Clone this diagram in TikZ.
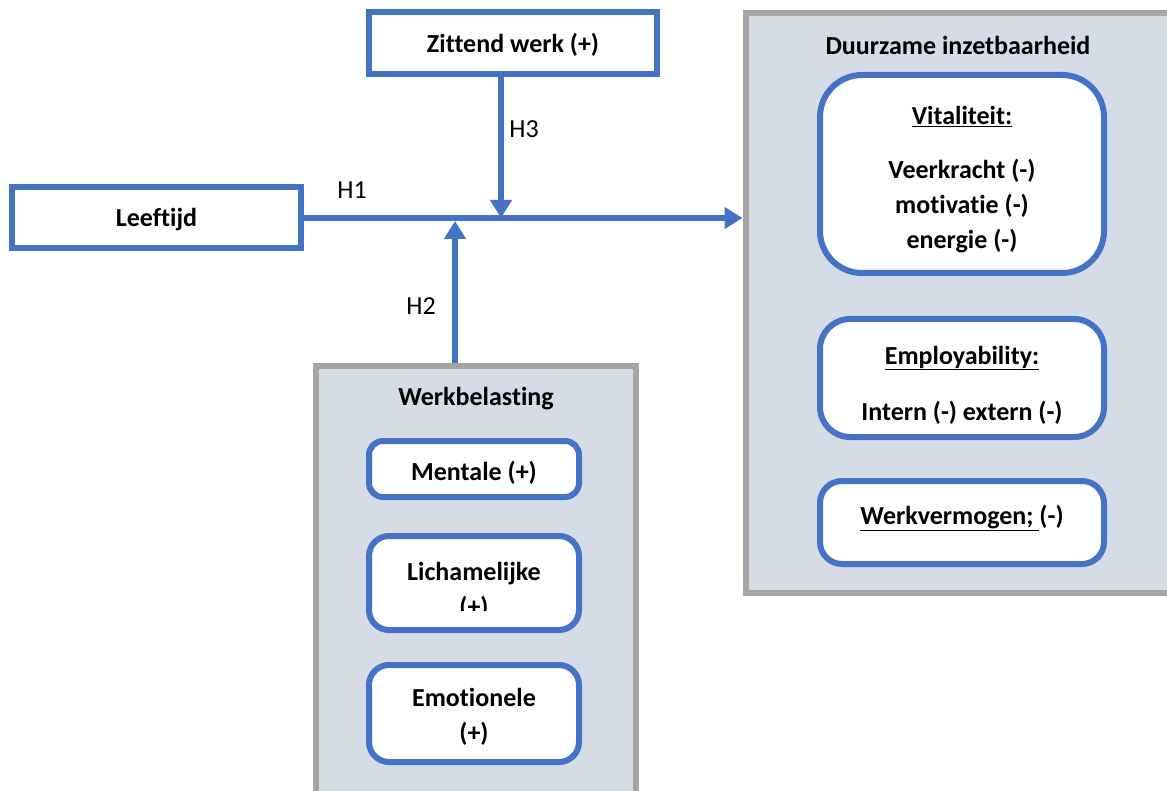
\documentclass[tikz,border=0pt]{standalone}
\usepackage{fontspec}
\setmainfont{Carlito}[Ligatures=NoCommon]
\usetikzlibrary{arrows.meta}
\definecolor{myblue}{HTML}{4472C4}
\definecolor{mygray}{HTML}{A5A5A5}
\definecolor{myfill}{HTML}{D6DCE5}
\begin{document}
\begin{tikzpicture}[x=1pt,y=-1pt,
  font=\fontsize{26}{35}\selectfont\bfseries,
  plainbox/.style={draw=myblue, line width=6pt, fill=white, inner sep=0pt},
  rbox/.style={plainbox, rounded corners=#1},
  groupbox/.style={draw=mygray, line width=6pt, fill=myfill, inner sep=0pt},
  txt/.style={align=center, inner sep=0pt},
  conn/.style={draw=myblue, line width=5.5pt, -{Triangle[length=18pt,width=21pt]}},
  hlabel/.style={font=\fontsize{26}{35}\selectfont\mdseries}]
\useasboundingbox (0,0) rectangle (1167,791);
\clip (0,0) rectangle (1167,791);
% group boxes
\node[groupbox, minimum width=454.5pt, minimum height=580pt] (duur) at (972.75,303) {};
\node[groupbox, minimum width=320pt, minimum height=454pt] (werk) at (476,593) {};
\node[txt] (duurt) at (958,45) {Duurzame inzetbaarheid};
\node[txt] (werkt) at (476,399) {Werkbelasting};
% top / left boxes
\node[plainbox, minimum width=288pt, minimum height=62pt] (zit) at (513,43.5) {};
\node[txt] (zitt) at (513,45) {Zittend werk (+)};
\node[plainbox, minimum width=289pt, minimum height=61pt] (leef) at (156.5,218) {};
\node[txt] (leeft) at (156.5,220) {Leeftijd};
% connectors
\coordinate (j3) at (501,218);
\coordinate (j2) at (455,221);
\draw[conn] (leef.east) -- (leef.east -| duur.west);
\draw[conn] (zit.south -| j3) -- (j3);
\draw[conn] (werk.north -| j2) -- (j2);
\node[hlabel] (h1) at (352,190) {H1};
\node[hlabel] (h3) at (524,129) {H3};
\node[hlabel] (h2) at (421,306) {H2};
% Duurzame inzetbaarheid contents
\node[rbox=42pt, minimum width=284pt, minimum height=198pt] (vit) at (962,174) {};
\node[txt] (vitt) at (962,180)
  {\underline{Vitaliteit:}\\[19pt] Veerkracht (-)\\motivatie (-)\\energie (-)};
\node[rbox=30pt, minimum width=284pt, minimum height=118pt] (emp) at (962,378) {};
\node[txt] (empt) at (962,385) {\underline{Employability:}\\[21pt] Intern (-) extern (-)};
\node[rbox=22pt, minimum width=284pt, minimum height=83pt] (wv) at (962,522.5) {};
\node[txt] (wvt) at (962,518) {\underline{Werkvermogen;\ }(-)};
% Werkbelasting contents
\node[rbox=14pt, minimum width=210pt, minimum height=56pt] (ment) at (474,469) {};
\node[txt] (mentt) at (474,473) {Mentale (+)};
\node[rbox=20pt, minimum width=210pt, minimum height=94pt] (lich) at (474,583) {};
\begin{scope}
  \clip (369,536) rectangle (579,610);
  \node[txt] (licht) at (474,591) {Lichamelijke\\(+)};
\end{scope}
\node[rbox=20pt, minimum width=210pt, minimum height=97pt] (emo) at (474,713.5) {};
\node[txt] (emot) at (474,717) {Emotionele\\(+)};
\end{tikzpicture}
\end{document}
